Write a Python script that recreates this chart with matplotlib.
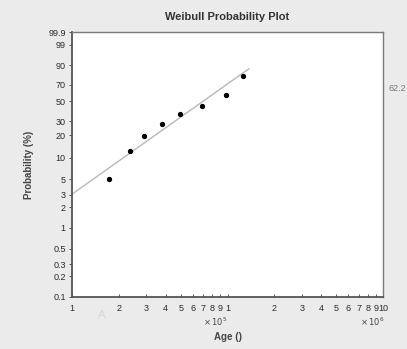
import numpy as np
import matplotlib
matplotlib.use("Agg")
import matplotlib.pyplot as plt

plt.rcParams['font.family'] = ['Liberation Sans', 'DejaVu Sans']

# data
age = [1.73e5, 2.37e5, 2.92e5, 3.81e5, 4.97e5, 6.82e5, 9.82e5, 1.26e6]
prob = [0.050, 0.122, 0.193, 0.274, 0.361, 0.447, 0.569, 0.805]

fit_age = [1.0e5, 1.37e6]
fit_prob = [0.0306, 0.871]

y_ticks = [0.001, 0.002, 0.003, 0.005, 0.01, 0.02, 0.03, 0.05, 0.1, 0.2, 0.3,
           0.5, 0.7, 0.9, 0.99, 0.999]
y_labels = ["0.1", "0.2", "0.3", "0.5", "1", "2", "3", "5", "10", "20", "30",
            "50", "70", "90", "99", "99.9"]
x_ticks = [1e5, 2e5, 3e5, 4e5, 5e5, 6e5, 7e5, 8e5, 9e5, 1e6,
           2e6, 3e6, 4e6, 5e6, 6e6, 7e6, 8e6, 9e6, 1e7]
x_labels = ["1", "2", "3", "4", "5", "6", "7", "8", "9", "1",
            "2", "3", "4", "5", "6", "7", "8", "9", "10"]


def weib(p):
    p = np.asarray(p)
    return np.log(-np.log(1 - p))


fig = plt.figure(figsize=(4.07, 3.49), dpi=100, facecolor="#ebebeb")
ax = fig.add_axes([0.177, 0.149, 0.764, 0.758])
ax.set_facecolor("white")

ax.plot(fit_age, weib(fit_prob), color="#b8b8b8", lw=1.0, zorder=2)
ax.plot(age, weib(prob), "o", color="black", ms=2.8, zorder=3)

ax.set_xscale("log")
ax.set_xlim(1e5, 1e7)
ax.set_ylim(weib(0.001), weib(0.999))

ax.set_yticks(weib(y_ticks))
ax.set_yticklabels(y_labels)
ax.set_xticks(x_ticks)
ax.set_xticklabels(x_labels)
ax.minorticks_off()
ax.tick_params(axis="both", labelsize=6.5, length=2.5, width=0.7, colors="#555555",
               labelcolor="#2a2a2a", pad=2)
ax.tick_params(axis="x", direction="in", pad=5)
ax.tick_params(axis="y", direction="out")

for side in ["left", "bottom"]:
    ax.spines[side].set_color("#555555")
    ax.spines[side].set_linewidth(1.3)
for side in ["top", "right"]:
    ax.spines[side].set_color("#7a7a7a")
    ax.spines[side].set_linewidth(1.0)

ax.set_title("Weibull Probability Plot", fontsize=8, fontweight="bold",
             color="#333333", pad=9)
ax.set_ylabel("Probability (%)", fontsize=7, fontweight="bold", color="#444444",
              labelpad=10)
ax.set_xlabel("Age ()", fontsize=7, fontweight="bold", color="#444444", labelpad=14)

ax.text(0.46, -0.095, r"$\times\,10^{5}$", transform=ax.transAxes, fontsize=6,
        color="#444444", ha="center", va="center")
ax.text(0.965, -0.095, r"$\times\,10^{6}$", transform=ax.transAxes, fontsize=6,
        color="#444444", ha="center", va="center")

fig.text(0.955, 0.745, "62.2", fontsize=6.5, color="#777777", va="center")
fig.text(0.25, 0.098, "A", fontsize=8, color="#d8d8d8", ha="center", va="center")

fig.savefig("out.png", dpi=100, facecolor=fig.get_facecolor())
